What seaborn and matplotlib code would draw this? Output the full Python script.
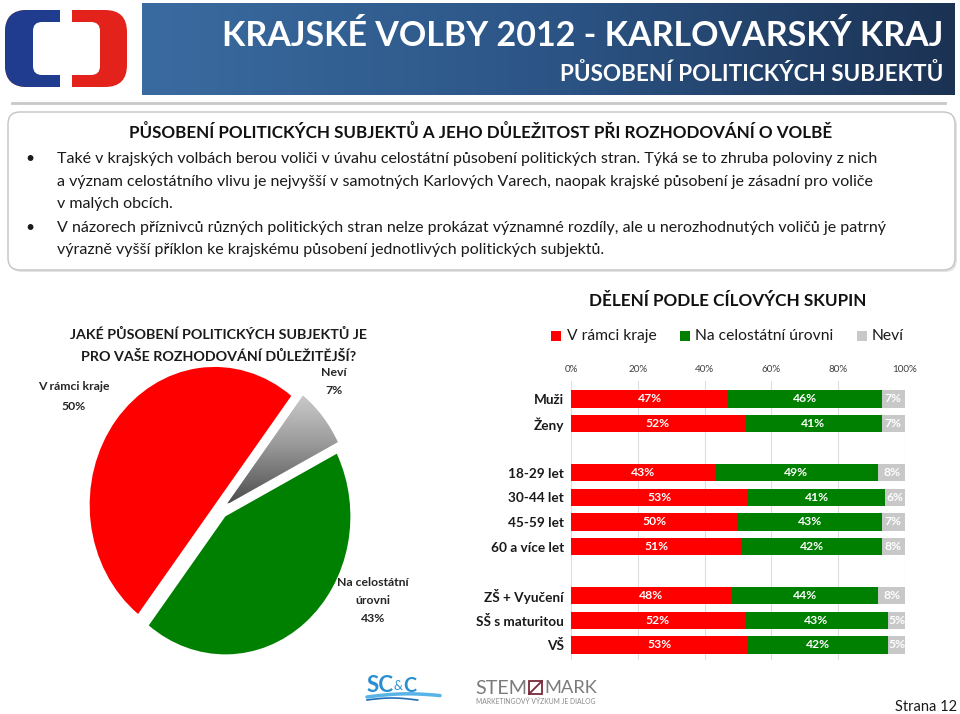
import numpy as np
import pandas as pd
import matplotlib
matplotlib.use("Agg")
import matplotlib.pyplot as plt
import seaborn as sns
from matplotlib.patches import FancyBboxPatch, Rectangle
from matplotlib.font_manager import FontProperties
from matplotlib.colors import LinearSegmentedColormap

# ---------------- data ----------------
pie_labels = ["Neví", "V rámci kraje", "Na celostátní úrovni"]
pie_values = [7, 50, 43]

groups = ["Muži", "Ženy", "18-29 let", "30-44 let", "45-59 let", "60 a více let",
          "ZŠ + Vyučení", "SŠ s maturitou", "VŠ"]
v_ramci_kraje = [47, 52, 43, 53, 50, 51, 48, 52, 53]
na_celostatni = [46, 41, 49, 41, 43, 42, 44, 43, 42]
nevi = [7, 7, 8, 6, 7, 8, 8, 5, 5]
series_names = ["V rámci kraje", "Na celostátní úrovni", "Neví"]
order = ["Muži", "Ženy", " ", "18-29 let", "30-44 let", "45-59 let", "60 a více let",
         "  ", "ZŠ + Vyučení", "SŠ s maturitou", "VŠ"]
x_ticks = [0, 20, 40, 60, 80, 100]
x_tick_labels = ["0%", "20%", "40%", "60%", "80%", "100%"]

RED = "#ff0000"
GREEN = "#008000"
GRAY = "#c8c8c8"
FONT = ["Lato", "DejaVu Sans"]

plt.rcParams["font.family"] = FONT

fig = plt.figure(figsize=(9.6, 7.14), dpi=100)
R = fig.canvas.get_renderer()


def fit(s, width, weight="normal"):
    fp = FontProperties(family=FONT, weight=weight, size=10)
    w, _, _ = R.get_text_width_height_descent(s, fp, ismath=False)
    return 10.0 * width / w


# background axes in pixel coordinates
bg = fig.add_axes([0, 0, 1, 1])
bg.set_zorder(0)
bg.axis("off")

# header banner
cmap_b = LinearSegmentedColormap.from_list("b", ["#3a6ba0", "#2c5586", "#1b3253"])
bg.imshow(np.linspace(0, 1, 256).reshape(1, -1), extent=[142, 955, 95, 3],
          cmap=cmap_b, aspect="auto", zorder=1)
bg.text(943, 36, "KRAJSKÉ VOLBY 2012 - KARLOVARSKÝ KRAJ", ha="right", va="center",
        color="white", weight="bold",
        fontsize=fit("KRAJSKÉ VOLBY 2012 - KARLOVARSKÝ KRAJ", 721, "bold"), zorder=3)
bg.text(943, 74, "PŮSOBENÍ POLITICKÝCH SUBJEKTŮ", ha="right", va="center",
        color="white", weight="bold",
        fontsize=fit("PŮSOBENÍ POLITICKÝCH SUBJEKTŮ", 385, "bold"), zorder=3)

# logo
outer = FancyBboxPatch((5, 10), 122, 77, boxstyle="round,pad=0,rounding_size=22",
                       fc="#e3231b", ec="none", zorder=2)
bg.add_patch(outer)
blue = Rectangle((0, 0), 66, 100, fc="#1f3c8f", ec="none", zorder=2.1)
bg.add_patch(blue)
blue.set_clip_path(outer)
bg.add_patch(FancyBboxPatch((33, 22), 67, 53, boxstyle="round,pad=0,rounding_size=9",
                            fc="white", ec="none", zorder=2.2))
bg.add_patch(Rectangle((60, 5), 12, 90, fc="white", ec="none", zorder=2.3))

# separator line
bg.plot([12, 945], [103, 103], color="#c9c9c9", lw=2, zorder=1)

# text box
bg.add_patch(FancyBboxPatch((10, 114), 947, 158, boxstyle="round,pad=0,rounding_size=12",
                            fc="#e4e4e4", ec="none", zorder=1))
bg.add_patch(FancyBboxPatch((8, 112), 947, 158, boxstyle="round,pad=0,rounding_size=12",
                            fc="white", ec="#c4c4c4", lw=1, zorder=1.1))
head = "PŮSOBENÍ POLITICKÝCH SUBJEKTŮ A JEHO DŮLEŽITOST PŘI ROZHODOVÁNÍ O VOLBĚ"
bg.text(480.5, 133, head, ha="center", va="center", weight="bold", color="#111111",
        fontsize=fit(head, 705, "bold"), zorder=3)
lines = [
    "Také v krajských volbách berou voliči v úvahu celostátní působení politických stran. Týká se to zhruba poloviny z nich",
    "a význam celostátního vlivu je nejvyšší v samotných Karlových Varech, naopak krajské působení je zásadní pro voliče",
    "v malých obcích.",
    "V názorech příznivců různých politických stran nelze prokázat významné rozdíly, ale u nerozhodnutých voličů je patrný",
    "výrazně vyšší příklon ke krajskému působení jednotlivých politických subjektů.",
]
body_fs = fit(lines[0], 824)
for y, s in zip([159, 182, 204, 228, 250], lines):
    bg.text(57, y, s, ha="left", va="center", fontsize=body_fs, color="#1a1a1a", zorder=3)
for y in [159, 228]:
    bg.text(30, y, "•", ha="center", va="center", fontsize=body_fs, color="#1a1a1a", zorder=3)

# ---------------- pie ----------------
cx, cy, rx, ry = 220.6, 510.0, 125.0, 138.0
pax = fig.add_axes([(cx - 1.3 * rx) / 960, 1 - (cy + 1.3 * ry) / 714,
                    2.6 * rx / 960, 2.6 * ry / 714])
pax.set_zorder(2)
wedges, _ = pax.pie(pie_values, colors=[GRAY, RED, GREEN], startangle=27,
                    counterclock=True, explode=[0.06, 0.06, 0.06],
                    wedgeprops=dict(linewidth=0))
cmap_g = LinearSegmentedColormap.from_list("g", ["#4e4e4e", "#9a9a9a", "#d4d4d4"])
im = pax.imshow(np.linspace(0, 1, 256).reshape(-1, 1), extent=[0.0, 1.1, 0.05, 0.9],
                origin="lower", cmap=cmap_g, aspect="auto", zorder=5)
im.set_clip_path(wedges[0])
pax.set_xlim(-1.3, 1.3)
pax.set_ylim(-1.3, 1.3)
pax.set_aspect("auto")
pax.axis("off")

pt1 = "JAKÉ PŮSOBENÍ POLITICKÝCH SUBJEKTŮ JE"
pt2 = "PRO VAŠE ROZHODOVÁNÍ DŮLEŽITĚJŠÍ?"
pfs = fit(pt1, 300, "bold")
bg.text(218, 334, pt1, ha="center", va="center", weight="bold", fontsize=pfs, color="#1a1a1a", zorder=3)
bg.text(219, 356, pt2, ha="center", va="center", weight="bold", fontsize=pfs, color="#1a1a1a", zorder=3)
lfs = fit("V rámci kraje", 72, "bold")
bg.text(74, 387, "V rámci kraje", ha="center", va="center", weight="bold", fontsize=lfs, color="#262626", zorder=3)
bg.text(74, 406, f"{pie_values[1]}%", ha="center", va="center", weight="bold", fontsize=lfs, color="#262626", zorder=3)
bg.text(334, 373, "Neví", ha="center", va="center", weight="bold", fontsize=lfs, color="#262626", zorder=3)
bg.text(334, 391, f"{pie_values[0]}%", ha="center", va="center", weight="bold", fontsize=lfs, color="#262626", zorder=3)
bg.text(373, 583, "Na celostátní", ha="center", va="center", weight="bold", fontsize=lfs, color="#262626", zorder=3)
bg.text(373, 601, "úrovni", ha="center", va="center", weight="bold", fontsize=lfs, color="#262626", zorder=3)
bg.text(373, 619, f"{pie_values[2]}%", ha="center", va="center", weight="bold", fontsize=lfs, color="#262626", zorder=3)

# ---------------- stacked bars ----------------
df = pd.DataFrame({"group": groups, "kraj": v_ramci_kraje,
                   "celo": na_celostatni, "nevi": nevi})
df["c2"] = df["kraj"] + df["celo"]
df["c3"] = df["c2"] + df["nevi"]

bax = fig.add_axes([571 / 960, 1 - 660 / 714, (905 - 571) / 960, (660 - 381) / 714])
bax.set_zorder(2)
bax.patch.set_alpha(0)
for col, colr in [("c3", GRAY), ("c2", GREEN), ("kraj", RED)]:
    sns.barplot(data=df, x=col, y="group", order=order, orient="h", color=colr,
                saturation=1, width=0.7, errorbar=None, linewidth=0, ax=bax)
bax.set_xlim(0, 100)
bax.set_ylim(10.61, -0.73)
bax.set_xlabel("")
bax.set_ylabel("")
for sp in bax.spines.values():
    sp.set_visible(False)
bax.set_axisbelow(True)
bax.xaxis.grid(True, color="#dedede", lw=0.8)
bax.yaxis.grid(False)
bax.set_xticks(x_ticks)
bax.set_xticklabels(x_tick_labels)
tfs = fit("100%", 25)
bax.tick_params(axis="x", top=True, bottom=False, labeltop=True, labelbottom=False,
                length=0, pad=5, labelsize=tfs, labelcolor="#404040")
bax.set_yticks(range(len(order)))
bax.set_yticklabels([o.strip() for o in order])
cfs = fit("SŠ s maturitou", 88, "bold")
bax.tick_params(axis="y", length=0, pad=5, labelsize=cfs, labelcolor="#1a1a1a")
for t in bax.get_yticklabels():
    t.set_fontweight("bold")

vfs = fit("47%", 24, "bold")
for _, row in df.iterrows():
    ypos = order.index(row["group"])
    k, c, n = row["kraj"], row["celo"], row["nevi"]
    end = min(k + c + n, 100)
    for xc, val in [(k / 2, k), (k + c / 2, c), ((k + c + end) / 2, n)]:
        bax.text(xc, ypos, f"{val}%", ha="center", va="center", color="white",
                 weight="bold", fontsize=vfs)

btitle = "DĚLENÍ PODLE CÍLOVÝCH SKUPIN"
bg.text(727.5, 301, btitle, ha="center", va="center", weight="bold", color="#111111",
        fontsize=fit(btitle, 277, "bold"), zorder=3)
legfs = fit("Na celostátní úrovni", 138)
for (sx, tx, name, colr) in [(551, 567, series_names[0], RED),
                             (680, 695, series_names[1], GREEN),
                             (857, 872, series_names[2], GRAY)]:
    bg.add_patch(Rectangle((sx, 331), 10, 10, fc=colr, ec="none", zorder=3))
    bg.text(tx, 336, name, ha="left", va="center", fontsize=legfs, color="#1a1a1a", zorder=3)

# ---------------- footer logos ----------------
bg.text(367, 686, "SC", ha="left", va="center", color="#2a8fd2", weight="bold",
        fontsize=fit("SC", 27, "bold"), zorder=3)
bg.text(394, 686, "&", ha="left", va="center", color="#2a8fd2",
        fontsize=fit("&", 9), zorder=3)
bg.text(403, 686, "C", ha="left", va="center", color="#2a8fd2", weight="bold",
        fontsize=fit("C", 13, "bold"), zorder=3)
xs = np.linspace(367, 440, 50)
bg.plot(xs, 697 - 4 * np.sin((xs - 367) / 73 * np.pi) * 0.6 + (xs - 367) * -0.02,
        color="#58b4e6", lw=2.5, zorder=3, solid_capstyle="round")
bg.plot(xs[:35], 700 - 2 * np.sin((xs[:35] - 367) / 50 * np.pi), color="#1f6fb5", lw=1.2, zorder=3)

bg.text(475, 688, "STEM", ha="left", va="center", color="#7b7b7b",
        fontsize=fit("STEM", 52), zorder=3)
bg.add_patch(Rectangle((529, 681), 13, 13, fc="none", ec="#7a2a3a", lw=1.3, zorder=3))
bg.plot([529, 542], [694, 681], color="#7a2a3a", lw=1.3, zorder=3)
bg.text(544, 688, "MARK", ha="left", va="center", color="#7b7b7b",
        fontsize=fit("MARK", 53), zorder=3)
bg.text(536, 701, "MARKETINGOVÝ VÝZKUM JE DIALOG", ha="center", va="center",
        color="#8a8a8a", fontsize=fit("MARKETINGOVÝ VÝZKUM JE DIALOG", 118), zorder=3)

bg.text(957, 707, "Strana 12", ha="right", va="center", color="#1a1a1a",
        fontsize=fit("Strana 12", 62), zorder=3)

bg.set_xlim(0, 960)
bg.set_ylim(714, 0)

fig.savefig("out.png", dpi=100)
